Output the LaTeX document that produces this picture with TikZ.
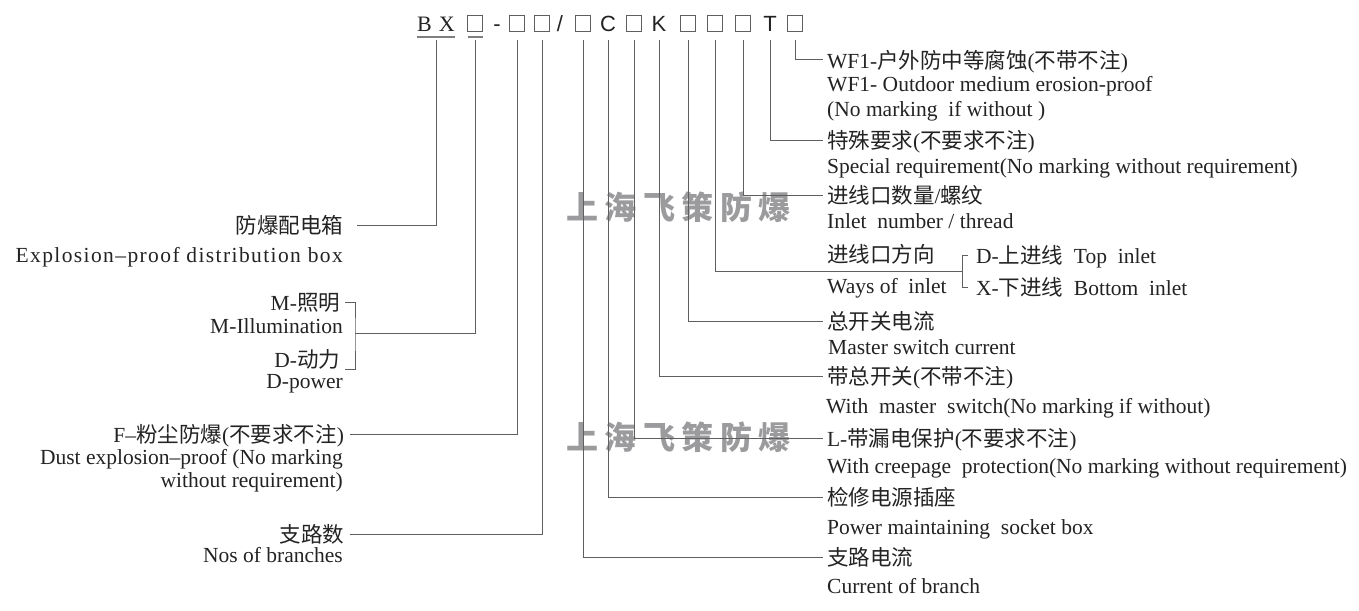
\documentclass[tikz,border=0pt]{standalone}
\usepackage{fontspec}
\setmainfont{Liberation Serif}
\newfontfamily\cjk{Noto Sans CJK SC}
\newfontfamily\arialf{Liberation Sans}
\newfontfamily\latsp{Liberation Serif}[LetterSpace=6.5]
\newcommand\zhs[1]{{\cjk #1}}
\definecolor{ln}{RGB}{95,95,95}
\definecolor{tx}{RGB}{35,35,35}
\definecolor{wm}{RGB}{155,155,158}
\begin{document}
\begin{tikzpicture}[x=1pt,y=-1pt,
  conn/.style={draw=ln,line width=1pt},
  uline/.style={draw=ln!80,line width=1.3pt},
  code/.style={inner sep=0pt,outer xsep=0pt,outer ysep=8.5pt,text height=16pt,text depth=0pt,font=\fontsize{22}{22}\selectfont,text=tx},
  codes/.style={code,font=\arialf\fontsize{22}{22}\selectfont},
  cbox/.style={draw=ln,line width=0.9pt,minimum width=15pt,minimum height=16pt,inner sep=0pt,outer xsep=0pt,outer ysep=8.5pt},
  rcn/.style={anchor=west,inner sep=0pt,outer xsep=4pt,outer ysep=0pt,text height=17pt,text depth=0pt,font=\fontsize{21.5}{21.5}\selectfont,text=tx},
  lcn/.style={rcn,anchor=east,outer xsep=6pt},
  en/.style={anchor=base west,inner sep=0pt,font=\fontsize{21.5}{21.5}\selectfont,text=tx},
  enr/.style={en,anchor=base east},
  wmst/.style={inner sep=0pt,text=wm,font=\cjk\bfseries\fontsize{32}{32}\selectfont}
]
\useasboundingbox[fill=white] (0,0) rectangle (1359,610);

% watermarks
\node[wmst] (wm1) at (678.5,207) {上\hspace{6.5pt}海\hspace{6.5pt}飞\hspace{6.5pt}策\hspace{6.5pt}防\hspace{6.5pt}爆};
\node[wmst] (wm2) at (678.5,437) {上\hspace{6.5pt}海\hspace{6.5pt}飞\hspace{6.5pt}策\hspace{6.5pt}防\hspace{6.5pt}爆};

% code row
\node[code] (bx) at (436,23.5) {B\hspace{7pt}X};
\node[cbox] (b1) at (475,23.5) {};
\node[codes] (dash) at (497,23.5) {-};
\node[cbox] (b2) at (517,23.5) {};
\node[cbox] (b3) at (542,23.5) {};
\node[codes] (slash) at (560,23.5) {/};
\node[cbox] (b4) at (583,23.5) {};
\node[codes] (cC) at (608,23.5) {C};
\node[cbox] (b5) at (634,23.5) {};
\node[codes] (cK) at (659,23.5) {K};
\node[cbox] (b6) at (688,23.5) {};
\node[cbox] (b7) at (715,23.5) {};
\node[cbox] (b8) at (743,23.5) {};
\node[codes] (cT) at (770,23.5) {T};
\node[cbox] (b9) at (795,23.5) {};
\draw[uline] ([yshift=3pt]bx.south west) -- ([yshift=3pt]bx.south east);
\draw[uline] ([yshift=3pt]b1.south west) -- ([yshift=3pt]b1.south east);

% right labels
\node[rcn] (wf1) at (823,60) {WF1-\zhs{户外防中等腐蚀}(\zhs{不带不注})};
\node[en] (wf1e) at (827,91) {WF1- Outdoor medium erosion-proof};
\node[en] (wf1f) at (827,116) {(No marking~ if without )};
\node[rcn] (ts) at (823,140) {\zhs{特殊要求}(\zhs{不要求不注})};
\node[en] (tse) at (827,173) {Special requirement(No marking without requirement)};
\node[rcn] (jk) at (823,195) {\zhs{进线口数量}/\zhs{螺纹}};
\node[en] (jke) at (827,228) {Inlet~ number / thread};
\node[en] (fx) at (827,262) {\zhs{进线口方向}};
\node[en] (fxe) at (827,293) {Ways of~ inlet};
\coordinate (brk) at (962,271);
\node[rcn,outer xsep=8pt] (dtop) at (968,255) {D-\zhs{上进线}~ Top~ inlet};
\node[rcn,outer xsep=8pt] (xbot) at (968,287) {X-\zhs{下进线}~ Bottom~ inlet};
\node[rcn] (zk) at (823,321) {\zhs{总开关电流}};
\node[en] (zke) at (828,354) {Master switch current};
\node[rcn] (dz) at (823,376) {\zhs{带总开关}(\zhs{不带不注})};
\node[en] (dze) at (826,413) {With~ master~ switch(No marking if without)};
\node[rcn] (ld) at (823,438) {L-\zhs{带漏电保护}(\zhs{不要求不注})};
\node[en] (lde) at (827,473) {With creepage~ protection(No marking without requirement)};
\node[rcn] (jx) at (823,497) {\zhs{检修电源插座}};
\node[en] (jxe) at (827,534) {Power maintaining~ socket box};
\node[rcn] (zl) at (823,557) {\zhs{支路电流}};
\node[en] (zle) at (827,593) {Current of branch};

% left labels
\node[lcn,outer xsep=14pt] (fb) at (357,225) {\zhs{防爆配电箱}};
\node[enr,font=\latsp\fontsize{21.5}{21.5}\selectfont] (fbe) at (343,262) {Explosion–proof distribution box};
\node[lcn,outer xsep=5pt] (mz) at (345,302) {M-\zhs{照明}};
\node[enr] (mze) at (343,333) {M-Illumination};
\node[enr,outer xsep=5pt] (dl) at (345,367) {D-\zhs{动力}};
\node[enr] (dle) at (343,388) {D-power};
\coordinate (brk2) at (355,333);
\node[lcn] (fc) at (350,434) {F–\zhs{粉尘防爆}(\zhs{不要求不注})};
\node[enr] (fce) at (343,464) {Dust explosion–proof (No marking};
\node[enr] (fcf) at (343,487) {without requirement)};
\node[lcn] (zs) at (350,534) {\zhs{支路数}};
\node[enr] (zse) at (343,562) {Nos of branches};

% connectors
\draw[conn] (bx.south) |- (fb.east);
\draw[conn] (b1.south) |- (brk2);
\draw[conn] (mz.east) -| (brk2) |- (dl.south east);
\draw[conn] (b2.south) |- (fc.east);
\draw[conn] (b3.south) |- (zs.east);
\draw[conn] (b4.south) |- (zl.west);
\draw[conn] (cC.south) |- (jx.west);
\draw[conn] (b5.south) |- (ld.west);
\draw[conn] (cK.south) |- (dz.west);
\draw[conn] (b6.south) |- (zk.west);
\draw[conn] (b7.south) |- (brk);
\draw[conn] (dtop.west) -| (brk) |- (xbot.west);
\draw[conn] (b8.south) |- (jk.west);
\draw[conn] (cT.south) |- (ts.west);
\draw[conn] (b9.south) |- (wf1.west);
\end{tikzpicture}
\end{document}
